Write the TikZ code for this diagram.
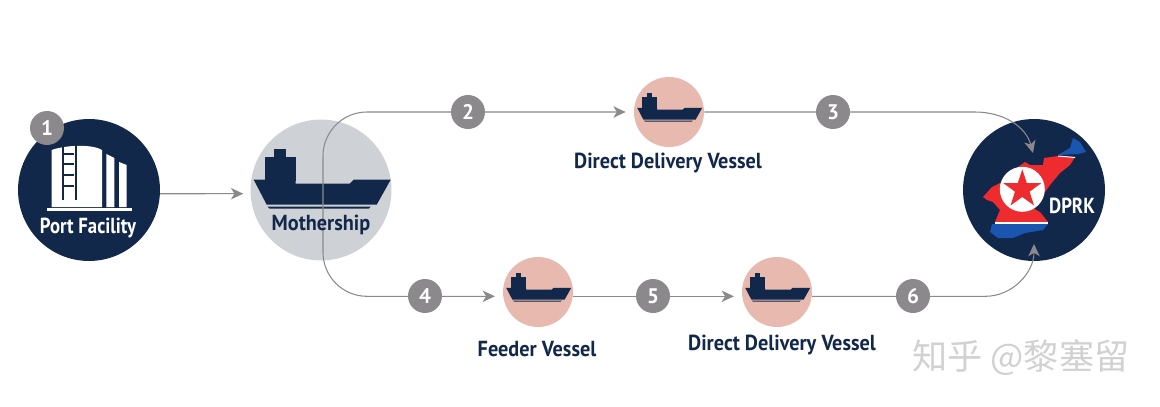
\documentclass[tikz,border=0pt]{standalone}
\usepackage{fontspec}
\setsansfont{PT Sans}
\newfontfamily\cjkfont{Noto Sans CJK SC}
\usepackage{xcolor}
\usetikzlibrary{positioning, arrows.meta, shapes.geometric}
\definecolor{navy}{HTML}{12284B}
\definecolor{mist}{HTML}{CED2D7}
\definecolor{salmon}{HTML}{E8B9AF}
\definecolor{badgegrey}{HTML}{8B898B}
\definecolor{flagred}{HTML}{EE2B2E}
\definecolor{flagblue}{HTML}{1A56B0}
\newcommand{\capt}[1]{\scalebox{0.93}[1]{#1}}
\newcommand{\captn}[1]{\scalebox{0.86}[1]{#1}}
\tikzset{
    ship/.pic={
        \fill[navy] (-68,-11) -- (-26,-11) -- (-26,-7) -- (28,-7) -- (32,-11) -- (69,-11) -- (55,14) -- (-55,14) -- cycle;
        \fill[navy] (-57,-34) rectangle (-26,-10);
        \fill[navy] (-48,-42) rectangle (-36,-33);
        \fill[navy] (-54,16) -- (49,16) -- (47,18) -- (-52,18) -- cycle;
    }
}
\begin{document}
\begin{tikzpicture}[
    x=0.02cm, y=-0.02cm,
    hub/.style={circle, fill=navy, minimum size=2.84cm, inner sep=0},
    mothercirc/.style={circle, fill=mist, minimum size=2.82cm, inner sep=0},
    vessel/.style={circle, fill=salmon, minimum size=1.4cm, inner sep=0},
    badge/.style={circle, fill=badgegrey, text=white, minimum size=0.68cm, inner sep=0, font=\sffamily\bfseries\fontsize{12}{12}\selectfont},
    caption/.style={text=navy, inner sep=0, font=\sffamily\bfseries\fontsize{12.4}{12.4}\selectfont},
    flow/.style={draw=badgegrey, line width=0.6pt, -{Stealth[length=7pt, width=6.5pt, inset=2pt]}, shorten >=0.16cm}
]
\useasboundingbox (0,0) rectangle (1160,406);

\node[hub] (port) at (89,190) {};
\node[mothercirc] (mother) at (321,190) {};
\node[vessel] (dd1) at (669,112) {};
\node[vessel] (feeder) at (538,292) {};
\node[vessel] (dd2) at (777,292) {};
\node[hub] (dprk) at (1034,190) {};

\coordinate (trunk) at (323,190);
\coordinate (dprktop) at (1033,153);
\coordinate (dprkbot) at (1034,244);

\fill[white] (51.7,207) -- (51.7,150) .. controls (62,146) and (90,143) .. (102,150) -- (102,207) -- cycle;
\fill[navy] (61.7,143) rectangle (64,200);
\fill[navy] (75,143) rectangle (77.3,200);
\foreach \y in {154,164,175,186} {
    \fill[navy] (64,\y-1) rectangle (73.5,\y+1);
}
\fill[white] (106.3,207) -- (106.3,154) -- (114.3,158) -- (114.3,207) -- cycle;
\fill[white] (119,207) -- (119,162) -- (126.7,165) -- (126.7,207) -- cycle;
\fill[white] (46.7,207.5) rectangle (131.7,211);

\pic at (321.7,190.7) {ship};
\pic[scale=0.475] at (669.5,113) {ship};
\pic[scale=0.475] at (538.5,293) {ship};
\pic[scale=0.475] at (777.5,293) {ship};

\fill[flagred] (1044,158) -- (1058,156) -- (1075,157) -- (1070,165) -- (1060,173) -- (1050,185) -- (1043,195) -- (1037,200) -- (1033,208) -- (1040,212) -- (1048,222) -- (995,222) -- (1000,210) -- (993,202) -- (987,200) -- (983,197) -- (992,187) -- (1002,182) -- (1010,173) -- (1018,167) -- (1025,162) -- (1030,165) -- (1043,165) -- cycle;
\fill[white] (995,222) rectangle (1048,224);
\fill[flagblue] (992,224) -- (1048,224) -- (1043,230) -- (1025,233) -- (1013,238) -- (998,238) -- (990,232) -- cycle;
\fill[white] (1058,155.5) -- (1075,157) -- (1075,158) -- (1058,156.5) -- cycle;
\fill[flagblue] (1058,155) -- (1070,148) -- (1073,138) -- (1080,142) -- (1086,152) -- (1078,154) -- cycle;
\node[circle, fill=white, minimum size=0.9cm, inner sep=0] (seal) at (1022.3,189.3) {};
\node[star, star points=5, star point ratio=2.6, fill=flagred, minimum size=0.8cm, inner sep=0] (sealstar) at (1022.3,189.3) {};

\draw[flow, shorten >=0.14cm] (port.-3) -- (mother.183);
\draw[flow, rounded corners=0.88cm] (trunk) |- (dd1);
\draw[flow, rounded corners=0.88cm] (trunk) |- (feeder.187);
\draw[flow] (feeder.-7) -- (dd2.187);
\draw[flow, shorten >=0pt] (dd1) -- (975,112) to[out=0, in=105] (dprktop);
\draw[flow, shorten >=0pt] (dd2.-7) -- ++(173,0) to[out=0, in=-90] (dprkbot);

\node[badge] (n1) at (47,128) {1};
\node[badge] (n2) at (468,112) {2};
\node[badge] (n3) at (833,112) {3};
\node[badge] (n4) at (425,296) {4};
\node[badge] (n5) at (653,296) {5};
\node[badge] (n6) at (913,296) {6};

\node[caption, text=white] (portlabel) at (88,228) {\captn{Port Facility}};
\node[caption] (motherlabel) at (321,225) {\capt{Mothership}};
\node[caption] (dd1label) at (668,163) {\capt{Direct Delivery Vessel}};
\node[caption] (feederlabel) at (537,349) {\capt{Feeder Vessel}};
\node[caption] (dd2label) at (782,345) {\capt{Direct Delivery Vessel}};
\node[caption, text=white] (dprklabel) at (1072,206) {\captn{DPRK}};

\node[text=black!18, inner sep=0, font=\cjkfont\fontsize{20}{20}\selectfont] (mark) at (1021,358) {知乎 @黎塞留};
\end{tikzpicture}
\end{document}
